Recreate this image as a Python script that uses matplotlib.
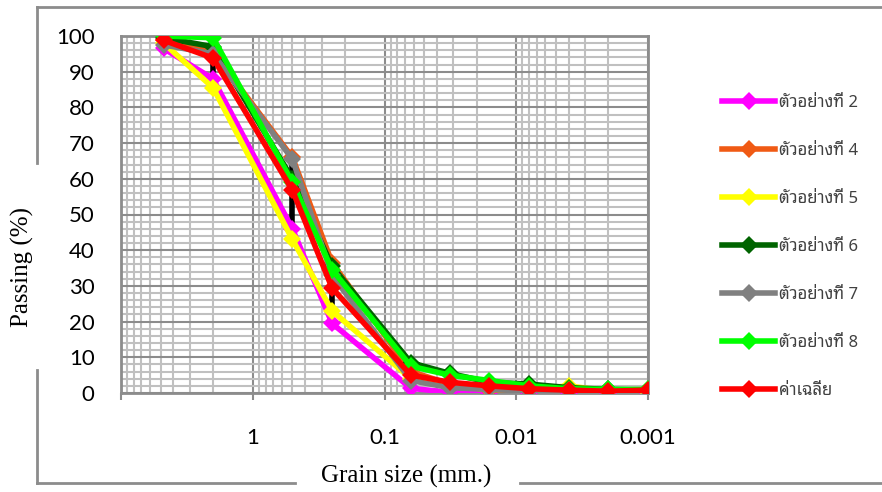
import matplotlib
matplotlib.use("Agg")
import matplotlib.pyplot as plt
from matplotlib.lines import Line2D
from matplotlib.ticker import FixedLocator, NullFormatter

# ---- data ----
grain_size = [4.75, 2.0, 0.5, 0.25, 0.063, 0.032, 0.016, 0.008, 0.004, 0.002, 0.001]
s2 = [96.5, 88.0, 46.0, 19.5, 1.3, 0.2, 0.0, 0.0, 0.0, 0.0, 0.0]
s4 = [99.0, 95.5, 66.0, 36.5, 6.0, 2.5, 0.8, 0.5, 0.5, 0.3, 0.3]
s5 = [98.0, 85.5, 43.0, 23.0, 4.0, 2.0, 1.0, 1.0, 2.0, 0.5, 0.2]
s6 = [99.5, 97.0, 60.0, 35.5, 8.5, 5.5, 3.0, 2.5, 1.5, 1.0, 0.8]
s7 = [97.5, 95.0, 65.5, 33.0, 3.5, 1.5, 1.0, 0.5, 0.5, 0.5, 0.5]
s8 = [100.0, 99.5, 59.0, 34.5, 7.5, 5.0, 3.5, 2.0, 1.2, 1.0, 1.0]
avg = [98.8, 93.8, 56.8, 29.4, 5.0, 3.0, 2.0, 1.2, 0.8, 0.5, 0.8]
series_labels = ["ตัวอย่างที่ 2", "ตัวอย่างที่ 4", "ตัวอย่างที่ 5", "ตัวอย่างที่ 6",
                 "ตัวอย่างที่ 7", "ตัวอย่างที่ 8", "ค่าเฉลี่ย"]
series_colors = ["#ff00ff", "#f05a14", "#ffff00", "#006400", "#808080", "#00ff00", "#ff0000"]
# black vertical bars seen on the chart
bar_x = [2.0, 0.5, 0.25]
bar_lo = [89.0, 46.5, 24.0]
bar_hi = [92.4, 67.2, 34.4]
end_x = [0.001]
end_y = [0.8]
x_ticks = [10, 1, 0.1, 0.01, 0.001]
x_ticklabels = ["", "1", "0.1", "0.01", "0.001"]
y_ticks = list(range(0, 101, 10))

W, H = 882, 492
fig = plt.figure(figsize=(W / 100, H / 100), dpi=100)
ax = fig.add_axes([121 / W, 1 - 393 / H, (648 - 121) / W, (393 - 36) / H])

ax.set_xscale("log")
ax.set_xlim(10, 0.001)
ax.set_ylim(0, 100)

ax.vlines(bar_x, bar_lo, bar_hi, colors="black", linewidth=4, zorder=2)
ax.plot(end_x, end_y, marker="s", color="black", markersize=6, linestyle="none", zorder=2)

all_series = [s2, s4, s5, s6, s7, s8, avg]
for vals, lab, col in zip(all_series, series_labels, series_colors):
    ax.plot(grain_size, vals, color=col, linewidth=4, marker="D", markersize=9,
            markeredgewidth=0, label=lab, zorder=3)

# grid
ax.set_yticks(y_ticks)
ax.yaxis.set_minor_locator(FixedLocator([v for v in range(0, 101, 2) if v % 10]))
minor = [m * 10.0 ** e for e in range(-3, 1) for m in range(2, 10)]
ax.xaxis.set_minor_locator(FixedLocator(minor))
ax.xaxis.set_minor_formatter(NullFormatter())
ax.set_xticks(x_ticks, x_ticklabels)
ax.grid(True, which="minor", color="#c0c0c0", linewidth=1.5, zorder=0)
ax.grid(True, which="major", color="#8c8c8c", linewidth=1.5, zorder=0)
ax.set_axisbelow(True)
ax.tick_params(axis="x", which="major", length=5, width=1.5, color="#8c8c8c", pad=20,
               labelsize=16)
ax.tick_params(axis="y", which="major", length=0, pad=19, labelsize=16)
ax.tick_params(which="minor", length=0)
for lbl in ax.get_xticklabels() + ax.get_yticklabels():
    lbl.set_fontfamily("Lato")
for sp in ax.spines.values():
    sp.set_color("#8c8c8c")
    sp.set_linewidth(2)

# outer frame (with gaps where the axis titles sit)
frame_kw = dict(color="#8c8c8c", linewidth=2, transform=fig.transFigure)
segs = [((37, W + 5), (7, 7)),
        ((37, 37), (7, 163)), ((37, 37), (370, 483)),
        ((37, 295), (483, 483)), ((520, W + 5), (483, 483))]
for xs, ys in segs:
    fig.add_artist(Line2D([x / W for x in xs], [1 - y / H for y in ys], **frame_kw))

fig.text(22 / W, 1 - 267 / H, "Passing (%)", rotation=90, ha="center", va="center",
         fontsize=18, family="Liberation Serif")
fig.text(406 / W, 1 - 476 / H, "Grain size (mm.)", ha="center", va="center",
         fontsize=18, family="Liberation Serif")

handles, labels = ax.get_legend_handles_labels()
leg = fig.legend(handles, labels, loc="upper left", bbox_to_anchor=(707 / W, 1 - 80 / H),
                 frameon=False, handlelength=3.2, labelspacing=1.92, handletextpad=0.2,
                 prop={"family": ["Noto Sans Thai Looped", "Noto Sans Thai", "DejaVu Sans"],
                       "size": 12})
for t in leg.get_texts():
    t.set_color("#404040")

fig.savefig("out.png", dpi=100)
